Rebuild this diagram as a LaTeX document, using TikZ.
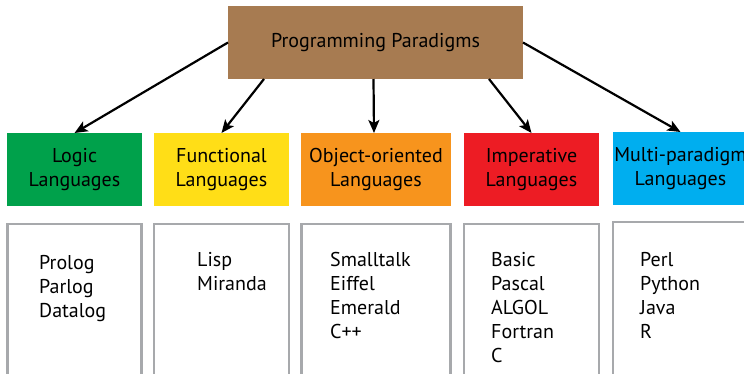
\documentclass[tikz,border=0pt]{standalone}
\usepackage{fontspec}
\setmainfont{PT Sans}
\usetikzlibrary{arrows.meta,positioning}

\definecolor{paradbrown}{HTML}{A77B51}
\definecolor{logicgreen}{HTML}{00A14B}
\definecolor{funcyellow}{HTML}{FFDE17}
\definecolor{ooporange}{HTML}{F7941D}
\definecolor{impred}{HTML}{ED1C24}
\definecolor{multiblue}{HTML}{00AEEF}
\definecolor{listgray}{HTML}{A7A9AC}

\tikzset{
    topbox/.style={fill=paradbrown, minimum width=295pt, minimum height=73pt,
        inner sep=0pt, outer sep=0pt, font=\fontsize{20}{24}\selectfont},
    langbox/.style={minimum width=135pt, minimum height=73pt, inner sep=0pt,
        outer sep=0pt, align=center, font=\fontsize{20}{24.5}\selectfont},
    listbox/.style={draw=listgray, line width=2.5pt, minimum height=200pt,
        inner sep=0pt, outer sep=0pt, anchor=north},
    listtext/.style={anchor=north west, align=left, inner sep=0pt,
        font=\fontsize{20}{24}\selectfont},
    arr/.style={-{Stealth[length=13pt,width=11pt,inset=3pt]}, line width=2.2pt}
}

\begin{document}
\begin{tikzpicture}[x=1pt,y=-1pt]
        \useasboundingbox (0,0) rectangle (744,373);
        \clip (0,0) rectangle (744,373);

        % caixa de topo
        \node[topbox] (para) at (375.5,42.5) {Programming Paradigms};

        % caixas coloridas
        \node[langbox, fill=logicgreen] (logic) at (74.5,169.5) {Logic\\Languages};
        \node[langbox, fill=funcyellow, right=12pt of logic] (func) {Functional\\Languages};
        \node[langbox, fill=ooporange, minimum width=150pt, right=12pt of func] (oop) {Object-oriented\\Languages};
        \node[langbox, fill=impred, right=13pt of oop] (imp) {Imperative\\Languages};
        \node[langbox, fill=multiblue, right=14pt of imp, yshift=1pt] (multi) {Multi-paradigm\\Languages};

        % caixas das listas
        \node[listbox, minimum width=134pt, below=18pt of logic] (logiclist) {};
        \node[listbox, minimum width=135pt, below=18pt of func] (funclist) {};
        \node[listbox, minimum width=149pt, below=18pt of oop] (ooplist) {};
        \node[listbox, minimum width=135pt, below=18pt of imp] (implist) {};
        \node[listbox, minimum width=135pt, below=17pt of multi] (multilist) {};

        % textos das listas
        \node[listtext] (logictext) at (39,255.5) {Prolog\\Parlog\\Datalog};
        \node[listtext] (functext) at (197,252.5) {Lisp\\Miranda};
        \node[listtext] (ooptext) at (330,252.5) {Smalltalk\\Eiffel\\Emerald\\C++};
        \node[listtext] (imptext) at (491,252.5) {Basic\\Pascal\\ALGOL\\Fortran\\C};
        \node[listtext] (multitext) at (640,252.5) {Perl\\Python\\Java\\R};

        % setas
        \draw[arr] (para.west) -- (logic.north);
        \draw[arr] ([xshift=36pt]para.south west) -- (func.north);
        \draw[arr] ([xshift=-2pt]para.south) -- ([xshift=-2pt]oop.north);
        \draw[arr] ([xshift=-34pt]para.south east) -- (imp.north);
        \draw[arr] (para.east) -- (multi.north);
    \end{tikzpicture}
\end{document}
